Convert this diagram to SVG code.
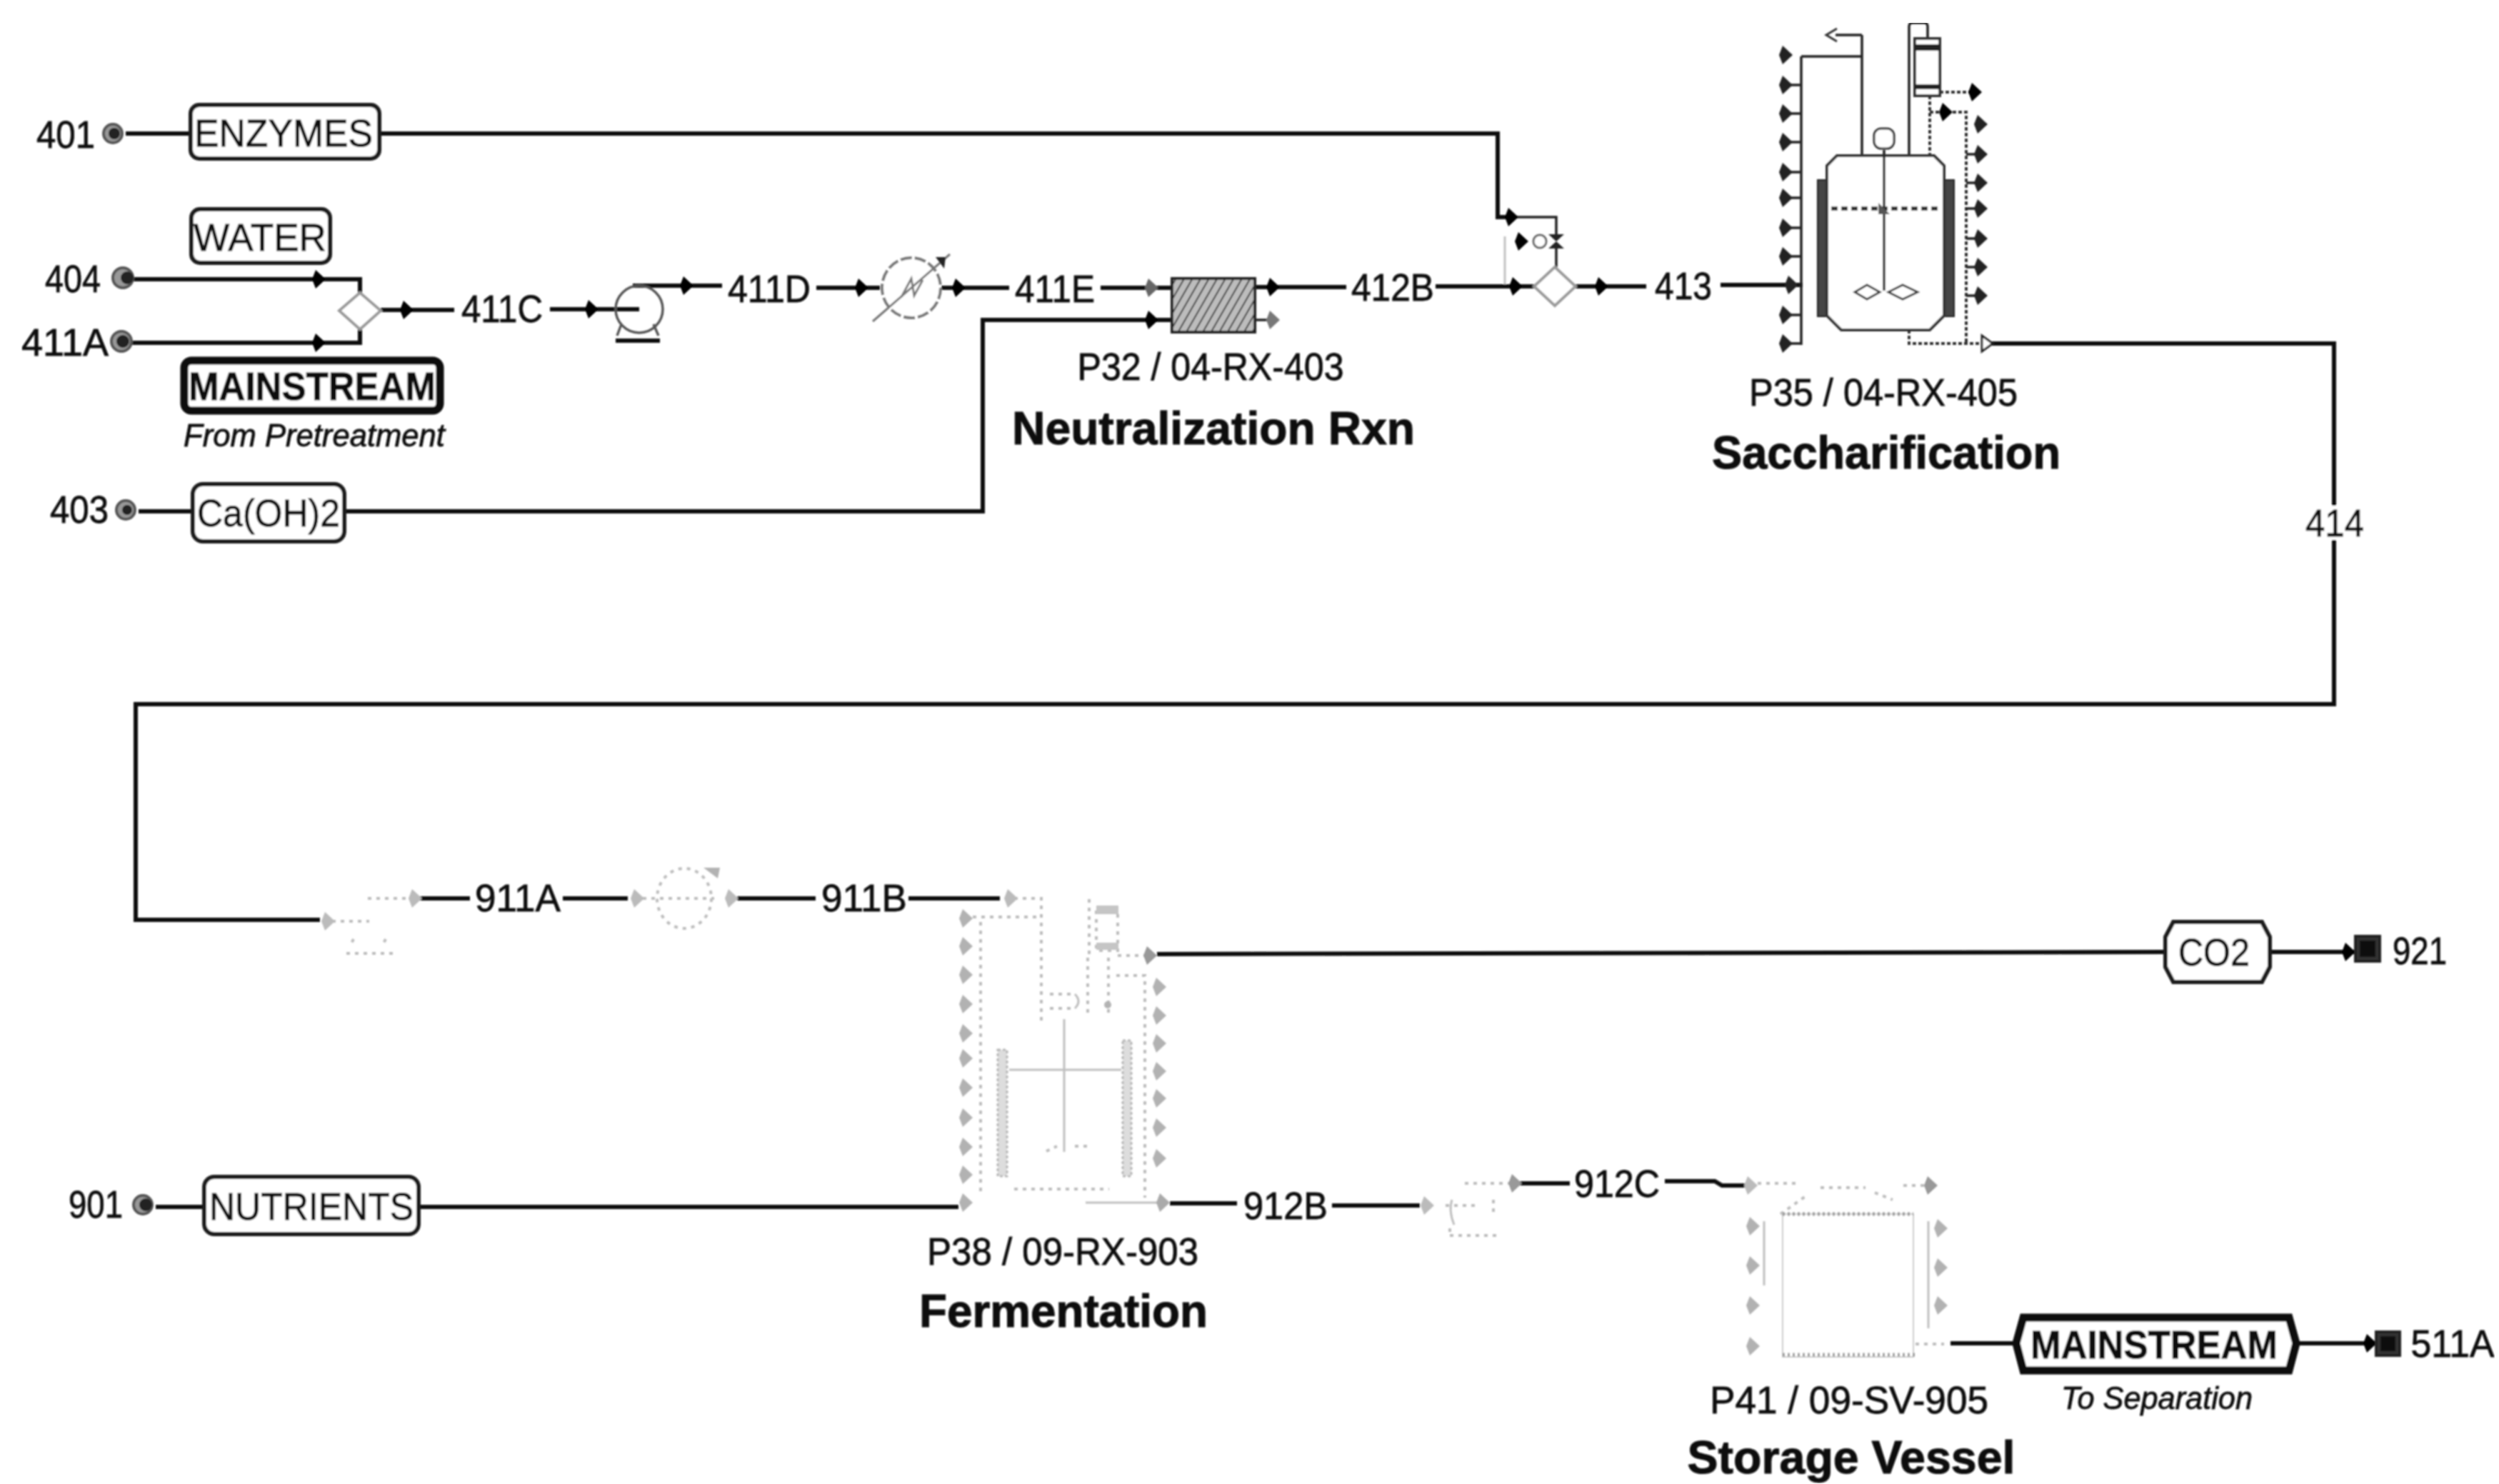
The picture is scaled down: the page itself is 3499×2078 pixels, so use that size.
<svg xmlns="http://www.w3.org/2000/svg" width="3499" height="2078" viewBox="0 0 3499 2078">
<style>
text{font-family:"Liberation Sans",Arial,sans-serif;fill:#111;stroke:#111;stroke-width:.8;text-anchor:middle}
.l{font-size:54px}
.b{font-size:64px;font-weight:700;fill:#0c0c0c;stroke:#0c0c0c;stroke-width:1}
.m{font-size:56px;font-weight:700;fill:#0c0c0c;stroke:#0c0c0c}
.i{font-size:44px;font-style:italic}
.s{fill:none;stroke:#111;stroke-width:6}
.t{fill:none;stroke:#222;stroke-width:3.5}
.d{fill:none;stroke:#333;stroke-width:4;stroke-dasharray:5 3}
.g{fill:none;stroke:#c0c0c0;stroke-width:3}
.f{fill:none;stroke:#bdbdbd;stroke-width:4;stroke-dasharray:5 7}
.box{fill:#fff;stroke:#1a1a1a;stroke-width:6}
.hb{fill:#fff;stroke:#0c0c0c;stroke-width:11}
.mix{fill:#fff;stroke:#9a9a9a;stroke-width:4}
.dark{fill:#222}
.gf{fill:#b2b2b2}
.jk{fill:#444;stroke:#222;stroke-width:2}
.jf{fill:#ddd;stroke:#b8b8b8;stroke-width:3;stroke-dasharray:4 3}
.ring{fill:#999;stroke:#555;stroke-width:4}
</style>
<defs>
<path id="a" d="M-9 0L-4 -13L10 0L-4 13Z"/>
<pattern id="h" width="10" height="10" patternUnits="userSpaceOnUse" patternTransform="rotate(-60)"><rect width="10" height="10" fill="#bdbdbd"/><line x1="0" y1="0" x2="10" y2="0" stroke="#333" stroke-width="4"/></pattern>
<filter id="soft" x="0" y="0" width="100%" height="100%"><feGaussianBlur stdDeviation="0.9"/></filter>
</defs>
<rect width="3499" height="2078" fill="#fff"/>
<g filter="url(#soft)">
<g id="connectors">
<path class="s" d="M176 187H267M531 187H2097V304H2116"/>
<path class="t" d="M2116 304H2179V330"/>
<path class="t" d="M2179 348V374"/>
<path class="g" d="M2107 331V399"/>
<path class="s" d="M185 391H504V412"/>
<path class="s" d="M185 480H504V459"/>
<path class="s" d="M533 434H636"/>
<path class="s" d="M770 433H895"/>
<path class="s" d="M886 400H1011"/>
<path class="s" d="M1143 403H1232"/>
<path class="s" d="M1318 403H1413"/>
<path class="s" d="M1541 403H1641"/>
<path class="s" d="M1757 402H1885"/>
<path class="s" d="M2010 401H2150"/>
<path class="s" d="M2206 401H2305"/>
<path class="s" d="M2409 399H2524"/>
<path class="s" d="M194 716H270M482 716H1376V448H1641"/>
<path class="t" d="M1757 448H1790"/>
<path class="s" d="M2782 481H3268V986H190V1288H448"/>
<path class="f" d="M465 1290H517M515 1258H575"/>
<path class="s" d="M585 1258H658M788 1258H879M1032 1258H1142M1272 1258H1400"/>
<path class="f" d="M900 1258H1000"/>
<path class="f" d="M1420 1258H1458V1431M1350 1284H1458"/>
<path class="s" d="M1620 1336L3032 1333M3178 1333H3296"/>
<path class="f" d="M1565 1338H1608"/>
<path class="s" d="M218 1690H286M586 1690H1342"/>
<path class="s" d="M1638 1685H1732M1865 1688H1988"/>
<path class="g" d="M1520 1684H1627"/>
<path class="f" d="M2051 1657H2114"/>
<path class="s" d="M2128 1657H2198M2331 1654H2401L2411 1660H2444"/>
<path class="s" d="M2731 1881H2819M3218 1881H3325"/>
</g>
<g id="src-401"><circle class="ring" cx="158" cy="187" r="13"/><circle class="dark" cx="160" cy="187" r="8"/><text class="l" x="92" y="207" textLength="82" lengthAdjust="spacingAndGlyphs">401</text></g>
<g id="src-404"><circle class="ring" cx="172" cy="389" r="14"/><circle class="dark" cx="178" cy="389" r="9"/><text class="l" x="102" y="409" textLength="78" lengthAdjust="spacingAndGlyphs">404</text></g>
<g id="src-411A"><circle class="ring" cx="170" cy="478" r="14"/><circle class="dark" cx="172" cy="478" r="9"/><text class="l" x="91" y="498" textLength="122" lengthAdjust="spacingAndGlyphs">411A</text></g>
<g id="src-403"><circle class="ring" cx="176" cy="714" r="13"/><circle class="dark" cx="178" cy="714" r="7"/><text class="l" x="111" y="732" textLength="82" lengthAdjust="spacingAndGlyphs">403</text></g>
<g id="src-901"><circle class="ring" cx="200" cy="1687" r="13"/><circle class="dark" cx="204" cy="1687" r="9"/><text class="l" x="134" y="1705" textLength="76" lengthAdjust="spacingAndGlyphs">901</text></g>
<g id="enzymes"><rect class="box" x="267" y="147" width="264" height="75" rx="12"/><text class="l" x="397" y="205" textLength="250" lengthAdjust="spacingAndGlyphs">ENZYMES</text></g>
<g id="water"><rect class="box" x="268" y="293" width="194" height="75" rx="12"/><text class="l" x="364" y="351" textLength="186" lengthAdjust="spacingAndGlyphs">WATER</text></g>
<g id="mainstream-in"><rect class="hb" x="258" y="505" width="358" height="70" rx="10"/><text class="m" x="437" y="560" textLength="346" lengthAdjust="spacingAndGlyphs">MAINSTREAM</text><text class="i" x="440" y="625" textLength="366" lengthAdjust="spacingAndGlyphs">From Pretreatment</text></g>
<g id="caoh2"><rect class="box" x="270" y="678" width="212" height="80" rx="14"/><text class="l" x="376" y="737" textLength="200" lengthAdjust="spacingAndGlyphs">Ca(OH)2</text></g>
<g id="nutrients"><rect class="box" x="286" y="1648" width="300" height="80" rx="14"/><text class="l" x="436" y="1708" textLength="286" lengthAdjust="spacingAndGlyphs">NUTRIENTS</text></g>
<g id="mixer-1"><path class="mix" d="M504 410L533 435L504 461L475 435Z"/><use href="#a" x="446" y="391"/><use href="#a" x="446" y="480"/><use href="#a" x="569" y="434"/><text class="l" x="703" y="451" textLength="114" lengthAdjust="spacingAndGlyphs">411C</text><use href="#a" x="828" y="433"/></g>
<g id="pump-1"><circle fill="none" stroke="#555" stroke-width="3.5" cx="895" cy="433" r="33"/><path class="s" d="M862 477H924"/><path fill="none" stroke="#555" stroke-width="3.5" d="M870 454L864 470M915 454L922 470"/><use href="#a" x="961" y="400"/></g>
<g id="hx-1"><text class="l" x="1077" y="423" textLength="116" lengthAdjust="spacingAndGlyphs">411D</text><use href="#a" x="1206" y="403"/><ellipse fill="#fff" stroke="#777" stroke-width="4" stroke-dasharray="16 4" cx="1276" cy="403" rx="41" ry="42"/><path fill="none" stroke="#777" stroke-width="3" d="M1222 450L1330 356M1262 416L1276 390L1280 414L1292 392"/><path class="dark" d="M1310 360L1324 360L1322 376Z"/><use href="#a" x="1342" y="403"/><text class="l" x="1477" y="423" textLength="112" lengthAdjust="spacingAndGlyphs">411E</text></g>
<g id="rx-403"><use href="#a" x="1612" y="403" fill="#666"/><use href="#a" x="1612" y="448"/><rect x="1641" y="390" width="116" height="75" fill="url(#h)" stroke="#222" stroke-width="4"/><use href="#a" x="1782" y="402"/><use href="#a" x="1782" y="448" fill="#777"/><text class="l" x="1695" y="532" textLength="373" lengthAdjust="spacingAndGlyphs">P32 / 04-RX-403</text><text class="b" x="1699" y="622" textLength="564" lengthAdjust="spacingAndGlyphs">Neutralization Rxn</text><text class="l" x="1950" y="421" textLength="116" lengthAdjust="spacingAndGlyphs">412B</text></g>
<g id="mixer-2"><use href="#a" x="2122" y="401"/><path class="mix" d="M2177 374L2206 401L2177 428L2148 401Z"/><use href="#a" x="2116" y="304"/><path class="dark" d="M2168 328L2190 328L2168 348L2190 348Z"/><circle fill="#fff" stroke="#666" stroke-width="3" cx="2156" cy="338" r="9"/><use href="#a" x="2130" y="338"/><use href="#a" x="2242" y="401"/><text class="l" x="2357" y="419" textLength="80" lengthAdjust="spacingAndGlyphs">413</text></g>
<g id="rx-405">
<path class="t" d="M2522 79V483M2522 79H2607M2607 49V216M2607 49H2570"/>
<path fill="none" stroke="#333" stroke-width="3" d="M2572 40L2557 49L2572 58"/>
<g class="dark"><use href="#a" x="2500" y="77"/><use href="#a" x="2500" y="119"/><use href="#a" x="2500" y="159"/><use href="#a" x="2500" y="199"/><use href="#a" x="2500" y="241"/><use href="#a" x="2500" y="277"/><use href="#a" x="2500" y="319"/><use href="#a" x="2500" y="359"/><use href="#a" x="2508" y="399"/><use href="#a" x="2500" y="441"/><use href="#a" x="2500" y="481"/></g>
<path class="t" d="M2505 119H2522M2505 159H2522M2505 199H2522M2505 241H2522M2505 277H2522M2505 319H2522M2505 359H2522M2505 441H2522M2505 481H2522"/>
<path class="jk" d="M2545 252H2558V443H2545ZM2722 252H2736V443H2722Z"/>
<path fill="#fff" stroke="#333" stroke-width="4" d="M2572 218H2708L2722 232V442L2702 462H2578L2558 442V232Z"/>
<path class="t" d="M2638 210V407"/>
<path fill="none" stroke="#333" stroke-width="6" stroke-dasharray="9 5" d="M2564 292H2714"/>
<rect fill="#fff" stroke="#333" stroke-width="3" x="2624" y="180" width="28" height="28" rx="10"/>
<path fill="#fff" stroke="#333" stroke-width="3" d="M2632 409L2614 399L2597 409L2614 419ZM2644 409L2664 399L2685 409L2664 419Z"/>
<path fill="#555" d="M2630 284L2646 300L2630 300Z"/>
<path class="t" d="M2673 216V37Q2673 32 2678 32H2694Q2699 32 2699 37V54"/>
<rect fill="#fff" stroke="#333" stroke-width="4" x="2681" y="54" width="35" height="80"/>
<path class="dark" d="M2681 62H2716V71H2681ZM2681 118H2716V125H2681Z"/>
<path class="d" d="M2702 134V216M2702 157H2753V479M2716 129H2758M2673 462V481H2775"/>
<use href="#a" x="2765" y="129"/><use href="#a" x="2724" y="157"/>
<g class="dark"><use href="#a" x="2773" y="174"/><use href="#a" x="2773" y="216"/><use href="#a" x="2773" y="256"/><use href="#a" x="2773" y="292"/><use href="#a" x="2773" y="334"/><use href="#a" x="2773" y="374"/><use href="#a" x="2773" y="414"/></g>
<path class="t" d="M2753 216H2765M2753 256H2765M2753 292H2765M2753 334H2765M2753 374H2765M2753 414H2765"/>
<path fill="#fff" stroke="#222" stroke-width="3" d="M2775 470L2790 481L2775 492Z"/>
<text class="l" x="2637" y="568" textLength="376" lengthAdjust="spacingAndGlyphs">P35 / 04-RX-405</text>
<text class="b" x="2641" y="656" textLength="488" lengthAdjust="spacingAndGlyphs">Saccharification</text>
</g>
<g id="label-414"><rect x="3228" y="708" width="84" height="48" fill="#fff"/><text class="l" x="3269" y="751" textLength="82" lengthAdjust="spacingAndGlyphs">414</text></g>
<g id="pump-2"><use href="#a" x="459" y="1290" fill="#bbb"/><path class="f" d="M485 1335H550"/><path class="f" d="M495 1315L490 1325M540 1315L535 1325"/><use href="#a" x="581" y="1258" fill="#bbb"/><text class="l" x="725" y="1276" textLength="120" lengthAdjust="spacingAndGlyphs">911A</text></g>
<g id="hx-2"><use href="#a" x="892" y="1258" fill="#bbb"/><ellipse class="f" cx="958" cy="1258" rx="38" ry="42"/><path class="gf" d="M985 1215L1008 1215L1005 1230Z"/><use href="#a" x="1024" y="1258" fill="#bbb"/><text class="l" x="1210" y="1276" textLength="120" lengthAdjust="spacingAndGlyphs">911B</text></g>
<g id="rx-903">
<use href="#a" x="1415" y="1258" fill="#bbb"/>
<path class="f" d="M1373 1291V1672"/>
<g class="gf"><use href="#a" x="1352" y="1286"/><use href="#a" x="1352" y="1325"/><use href="#a" x="1352" y="1365"/><use href="#a" x="1352" y="1406"/><use href="#a" x="1352" y="1447"/><use href="#a" x="1352" y="1482"/><use href="#a" x="1352" y="1523"/><use href="#a" x="1352" y="1565"/><use href="#a" x="1352" y="1606"/><use href="#a" x="1352" y="1645"/><use href="#a" x="1352" y="1684"/></g>
<rect class="jf" x="1397" y="1470" width="13" height="177"/><rect class="jf" x="1572" y="1457" width="12" height="190"/>
<path class="g" d="M1490 1427V1613M1413 1498H1570"/>
<path class="f" d="M1420 1665H1553M1470 1392H1505M1470 1412H1505M1465 1612L1480 1605M1505 1605H1525"/>
<path class="g" d="M1505 1392Q1515 1402 1505 1412"/>
<path class="f" d="M1525 1259V1341M1523 1341V1420M1535 1274H1565V1331H1535ZM1552 1341V1424M1563 1366H1603V1677"/>
<path fill="#c5c5c5" d="M1535 1268H1566V1280H1535ZM1535 1320H1566V1330H1535Z"/>
<circle class="gf" cx="1551" cy="1407" r="5"/>
<use href="#a" x="1610" y="1338" fill="#999"/><use href="#a" x="1628" y="1684" fill="#aaa"/>
<g class="gf"><use href="#a" x="1623" y="1382"/><use href="#a" x="1623" y="1422"/><use href="#a" x="1623" y="1461"/><use href="#a" x="1623" y="1500"/><use href="#a" x="1623" y="1538"/><use href="#a" x="1623" y="1579"/><use href="#a" x="1623" y="1622"/></g>
<text class="l" x="1488" y="1771" textLength="380" lengthAdjust="spacingAndGlyphs">P38 / 09-RX-903</text>
<text class="b" x="1489" y="1858" textLength="404" lengthAdjust="spacingAndGlyphs">Fermentation</text>
</g>
<g id="co2"><path class="box" d="M3043 1291H3167L3178 1312V1354L3167 1375H3043L3032 1354V1312Z"/><text class="l" x="3100" y="1352" textLength="100" lengthAdjust="spacingAndGlyphs">CO2</text></g>
<g id="sink-921"><use href="#a" x="3288" y="1333"/><rect x="3298" y="1311" width="34" height="35" fill="#333" stroke="#222" stroke-width="4"/><rect x="3304" y="1317" width="22" height="23" fill="#111"/><text class="l" x="3388" y="1350" textLength="76" lengthAdjust="spacingAndGlyphs">921</text></g>
<g id="pump-3"><text class="l" x="1800" y="1707" textLength="118" lengthAdjust="spacingAndGlyphs">912B</text><use href="#a" x="1998" y="1688" fill="#bbb"/><path class="f" d="M2024 1688H2065M2091 1680V1700M2030 1720V1730M2030 1730H2095"/><path class="g" d="M2033 1680Q2028 1695 2036 1715"/><use href="#a" x="2121" y="1657" fill="#999"/><text class="l" x="2264" y="1676" textLength="120" lengthAdjust="spacingAndGlyphs">912C</text></g>
<g id="sv-905">
<use href="#a" x="2451" y="1660" fill="#bbb"/>
<path class="f" d="M2461 1657H2521M2493 1700L2531 1673M2549 1663H2612M2625 1670L2650 1680M2665 1660H2695"/>
<use href="#a" x="2703" y="1660" fill="#999"/>
<rect x="2496" y="1700" width="183" height="200" fill="#fff" stroke="#ccc" stroke-width="2"/>
<path fill="none" stroke="#999" stroke-width="5" stroke-dasharray="3 4" d="M2496 1700H2679M2496 1897H2684"/>
<path class="g" d="M2470 1710V1800M2700 1710V1860"/>
<g class="gf"><use href="#a" x="2454" y="1717"/><use href="#a" x="2454" y="1772"/><use href="#a" x="2454" y="1828"/><use href="#a" x="2454" y="1885"/><use href="#a" x="2717" y="1720"/><use href="#a" x="2717" y="1775"/><use href="#a" x="2717" y="1828"/></g>
<path class="f" d="M2682 1882H2722"/>
<text class="l" x="2589" y="1979" textLength="390" lengthAdjust="spacingAndGlyphs">P41 / 09-SV-905</text>
<text class="b" x="2592" y="2063" textLength="459" lengthAdjust="spacingAndGlyphs">Storage Vessel</text>
</g>
<g id="mainstream-out"><path class="hb" d="M2833 1845H3205L3215 1881L3205 1919H2833L2823 1881Z"/><text class="m" x="3016" y="1902" textLength="346" lengthAdjust="spacingAndGlyphs">MAINSTREAM</text><text class="i" x="3020" y="1973" textLength="268" lengthAdjust="spacingAndGlyphs">To Separation</text></g>
<g id="sink-511A"><use href="#a" x="3318" y="1881"/><rect x="3327" y="1865" width="33" height="33" fill="#333" stroke="#222" stroke-width="4"/><rect x="3333" y="1871" width="21" height="21" fill="#111"/><text class="l" x="3434" y="1900" textLength="117" lengthAdjust="spacingAndGlyphs">511A</text></g>
</g>
</svg>
